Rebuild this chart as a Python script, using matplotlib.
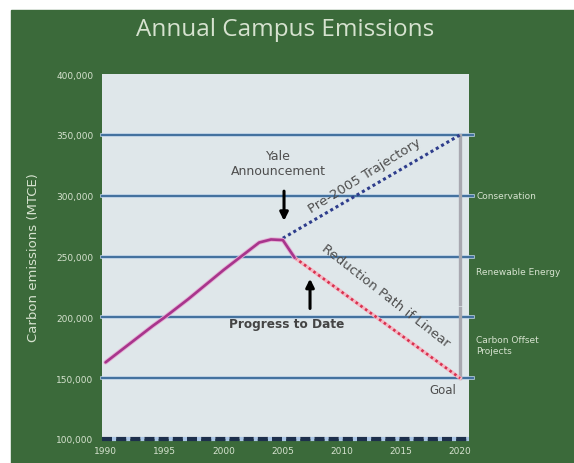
import matplotlib.pyplot as plt
import matplotlib.patches as mpatches

GREEN = "#3b6a3a"
PANEL = "#dfe7ea"
LIGHT = "#d6e2cf"
GRID = "#41709e"

# measured campus emissions (MTCE)
years = [1990, 1991, 1992, 1993, 1994, 1995, 1996, 1997, 1998, 1999,
         2000, 2001, 2002, 2003, 2004, 2005, 2006]
emissions = [163000, 170500, 178000, 185500, 193000, 200000, 207500, 215000,
             223000, 231000, 239000, 246500, 254000, 261500, 264000, 263500, 249000]

# pre-2005 growth carried forward
bau_years = [2005, 2020]
bau_values = [265000, 350000]

# straight-line path to the 2020 goal
path_years = [2006, 2020]
path_values = [249000, 150000]

# wedges on the right-hand bar
wedge_labels = ["Conservation", "Renewable Energy", "Carbon Offset\nProjects"]
wedge_bounds = [(350000, 272000), (269000, 211000), (208000, 150000)]
wedge_label_y = [300000, 238000, 177000]

gridlines = [150000, 200000, 250000, 300000, 350000]
yticks = [100000, 150000, 200000, 250000, 300000, 350000, 400000]
xticks = [1990, 1995, 2000, 2005, 2010, 2015, 2020]

fig = plt.figure(figsize=(5.74, 4.64), dpi=100, facecolor="white")
fig.patches.append(mpatches.Rectangle((11 / 574, 0), 1, (464 - 11) / 464,
                                      transform=fig.transFigure, color=GREEN, zorder=-5))

ax = fig.add_axes([102 / 574, 24 / 464, 367 / 574, 365 / 464])
ax.set_zorder(2)
ax.set_facecolor(PANEL)
ax.set_xlim(1989.7, 2020.75)
ax.set_ylim(100000, 400000)
for s in ax.spines.values():
    s.set_visible(False)

for g in gridlines:
    ax.axhline(g, xmin=0, xmax=1.012, color="#b4cbe2", lw=2.6, clip_on=False, zorder=1)
    ax.axhline(g, xmin=0, xmax=1.012, color=GRID, lw=1.4, clip_on=False, zorder=1)

# dashed base line
ax.plot([1989.7, 2020.75], [100000, 100000], color="#1d2f4c", lw=3.0,
        linestyle=(0, (2.4, 1.0)), gapcolor="#a9c4e4", clip_on=False, zorder=3)

ax.plot(bau_years, bau_values, color="#2e3d8c", lw=2.2, linestyle=(0, (1, 1)), zorder=4)
ax.plot(path_years, path_values, color="#f4b8c4", lw=2.6, zorder=3)
ax.plot(path_years, path_values, color="#d8314f", lw=1.9, linestyle=(0, (1, 1.2)), zorder=4)
ax.plot(years, emissions, color="#e5b0d6", lw=3.2, zorder=4, solid_capstyle="round")
ax.plot(years, emissions, color="#a8358c", lw=1.9, zorder=5, solid_capstyle="round")

for top, bottom in wedge_bounds:
    ax.plot([2020, 2020], [top, bottom], color="#a8a8b0", lw=2.4, zorder=2)

ax.set_xticks(xticks)
ax.set_yticks(yticks)
ax.set_yticklabels([f"{v:,}" for v in yticks])
ax.tick_params(axis="both", length=0, colors=LIGHT, labelsize=6.5)
ax.tick_params(axis="x", pad=5)
ax.tick_params(axis="y", pad=6)
ax.set_ylabel("Carbon emissions (MTCE)", color=LIGHT, fontsize=9.5, labelpad=12)

fig.text(0.497, 0.935, "Annual Campus Emissions", color=LIGHT, fontsize=17.5,
         family="Open Sans", ha="center", va="center")

for lab, yv in zip(wedge_labels, wedge_label_y):
    ax.text(1.02, yv, lab, transform=ax.get_yaxis_transform(), color=LIGHT,
            fontsize=6.5, ha="left", va="center", linespacing=1.3)

txt = "#4e4e4e"
ax.text(2004.6, 327000, "Yale\nAnnouncement", color=txt, fontsize=9,
        ha="center", va="center", linespacing=1.15)
ax.annotate("", xy=(2005.1, 277000), xytext=(2005.1, 306000),
            arrowprops=dict(arrowstyle="-|>", color="black", lw=2.2, mutation_scale=12))
ax.text(2011.9, 317000, "Pre-2005 Trajectory", color=txt, fontsize=9.5,
        ha="center", va="center", rotation=32)
ax.text(2013.7, 218000, "Reduction Path if Linear", color=txt, fontsize=9.5,
        ha="center", va="center", rotation=-38)
ax.annotate("", xy=(2007.3, 234000), xytext=(2007.3, 205000),
            arrowprops=dict(arrowstyle="-|>", color="black", lw=2.2, mutation_scale=12))
ax.text(2005.3, 195000, "Progress to Date", color="#444444", fontsize=8.7,
        ha="center", va="center", fontweight="bold")
ax.text(2019.7, 141000, "Goal", color=txt, fontsize=8.5, ha="right", va="center")

fig.savefig("out.png", dpi=100, facecolor="white")
